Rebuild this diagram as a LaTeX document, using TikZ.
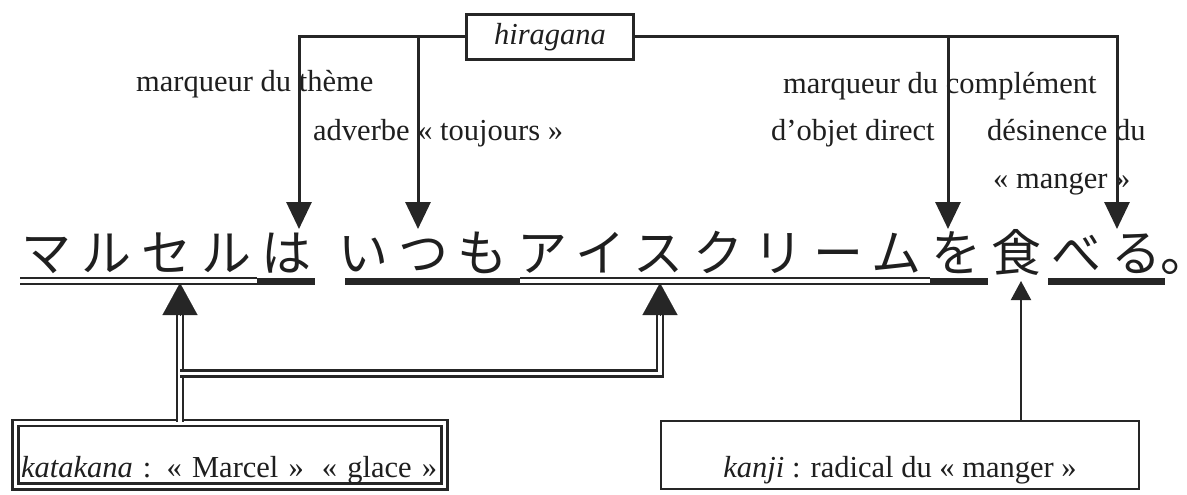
\documentclass[tikz,border=0pt]{standalone}
\usepackage{fontspec}
\setmainfont{Liberation Serif}
\newfontfamily\jpfont[LetterSpace=19.8]{Noto Sans CJK JP}
\usetikzlibrary{arrows.meta}
\begin{document}
\begin{tikzpicture}[x=1pt,y=-1pt,line join=miter,
  every node/.style={text=black!88},
  lab/.style={anchor=base west, inner sep=0pt, font=\fontsize{30.5}{36}\selectfont},
  conn/.style={draw=black!85, line width=3pt},
  downtip/.style={-{Triangle[length=27pt,width=25pt]}},
  uptip/.style={draw=black!85, fill=black!85, line width=0.1pt, -{Triangle[length=32pt,width=35pt]}},
  dbl/.style={draw=black!85, line width=2.5pt, double=white, double distance=3.5pt},
  hbar/.style={draw=black!85, line width=7pt},
  boxfont/.style={font=\fontsize{30.5}{36}\selectfont},
]
\useasboundingbox (0,0) rectangle (1187,495);
\fill[white] (0,0) rectangle (1187,495);

% labels
\node[lab] (l1) at (136,92) {marqueur du thème};
\node[lab] (l2) at (313,140) {adverbe « toujours »};
\node[lab] (l3) at (783,93) {marqueur du complément};
\node[lab] (l4) at (771,140) {d’objet direct};
\node[lab] (l5) at (987,140) {désinence du};
\node[lab] (l6) at (993,188) {« manger »};

% hiragana box and connectors
\node[draw=black!85, line width=3pt, minimum width=167pt, minimum height=45pt, inner sep=0pt,
      font=\fontsize{30.5}{36}\selectfont\itshape] (hira) at (550,37) {hiragana};
\coordinate (t1) at (299,229);
\coordinate (t2) at (418,229);
\coordinate (t3) at (948,229);
\coordinate (t4) at (1117,229);
\draw[conn, downtip] (hira.west) -| (t1);
\draw[conn, downtip] (hira.west) -| (t2);
\draw[conn, downtip] (hira.east) -| (t3);
\draw[conn, downtip] (hira.east) -| (t4);

% sentence
\node[anchor=base west, inner sep=0pt, font=\jpfont\fontsize{50}{58}\selectfont] (jp) at (21.4,271)
  {マルセルは\makebox[27pt][l]{\ }いつもアイスクリームを食べる\kern-1pt\rlap{。}};

% underlines
\draw[dbl] (20,281) -- (257,281);
\draw[hbar] (257,281) -- (315,281);
\draw[hbar] (345,281) -- (520,281);
\draw[dbl] (520,281) -- (930,281);
\draw[hbar] (930,281) -- (988,281);
\draw[hbar] (1048,281) -- (1165,281);

% katakana box
\node[dbl, minimum width=429pt, minimum height=63.5pt, inner xsep=5.5pt, inner ysep=0pt,
      text width=418pt, align=left, text height=54pt, text depth=9.5pt, boxfont] (kata) at (230,454.75)
  {\textit{katakana} : « Marcel »\hspace{18pt}« glace »};

% kanji box
\node[draw=black!85, line width=2pt, minimum width=478pt, minimum height=68pt, inner sep=0pt,
      text height=56pt, text depth=12pt, boxfont] (kanji) at (900,455)
  {\textit{kanji} : radical du « manger »};

% upward connectors
\coordinate (u1) at (180,283);
\coordinate (b1) at (180,315);
\coordinate (u2) at (660,283);
\coordinate (b2) at (660,315);
\coordinate (j1) at (180,373.5);
\draw[dbl] (kata.north -| u1) -- (b1);
\draw[dbl] (j1) -- (j1 -| u2) -- (b2);
\draw[uptip] (b1) -- (u1);
\draw[uptip] (b2) -- (u2);
\coordinate (u3) at (1021,281);
\draw[draw=black!85, line width=2pt, -{Triangle[length=19pt,width=20pt]}] (kanji.north -| u3) -- (u3);
\end{tikzpicture}
\end{document}
